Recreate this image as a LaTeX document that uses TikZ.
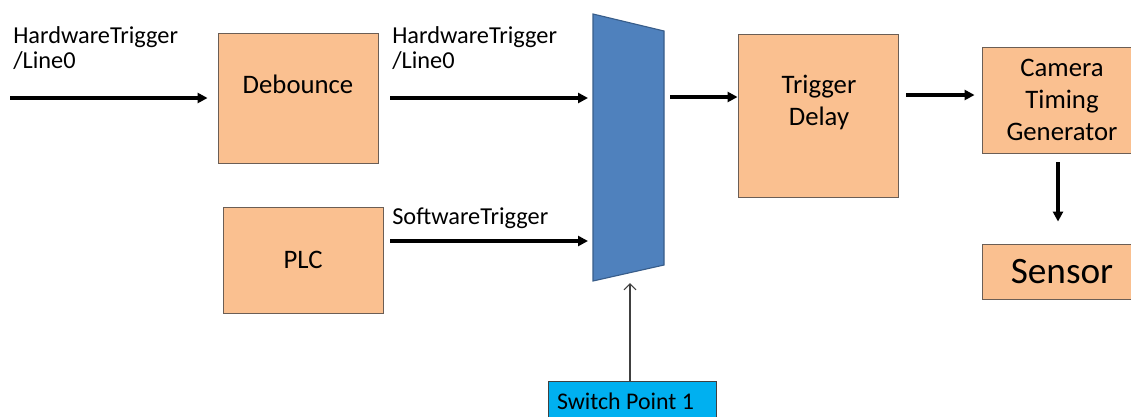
\documentclass[tikz,border=0pt]{standalone}
\usepackage{fontspec}
\setmainfont{Carlito}
\usetikzlibrary{arrows.meta}
\definecolor{boxorange}{HTML}{FAC090}
\definecolor{boxedge}{HTML}{6B5E55}
\definecolor{muxblue}{HTML}{4F81BD}
\definecolor{muxedge}{HTML}{385D8A}
\definecolor{spcyan}{HTML}{00B0F0}
\definecolor{selgray}{HTML}{404040}
\begin{document}
\begin{tikzpicture}[x=0.025cm,y=-0.025cm,line join=miter]
  \tikzset{
    blk/.style={draw=boxedge,fill=boxorange,line width=0.6pt,inner sep=0pt,
      font=\fontsize{19}{22.7}\selectfont,align=center},
    blktxt/.style={inner sep=0pt,align=center,font=\fontsize{19}{22.7}\selectfont},
    sig/.style={-{Triangle[length=0.25cm,width=0.25cm]},line width=2.2pt},
    selsig/.style={-{Straight Barb[length=0.15cm,width=0.3cm]},line width=0.8pt,draw=selgray},
    lbl/.style={anchor=north west,inner sep=0pt,align=left,font=\fontsize{17.3}{17.7}\selectfont},
  }
  \useasboundingbox (0,0) rectangle (1131,416);

  % ==================== blocks ====================
  \node[blk,minimum width=4cm,minimum height=3.25cm] (deb) at (298,98) {};
  \node[blktxt] (debtxt) at (298,84) {Debounce};
  \node[blk,minimum width=4cm,minimum height=2.65cm] (plc) at (303,260) {PLC};
  \node[blk,minimum width=4cm,minimum height=4.075cm] (td) at (818,115.5) {};
  \node[blktxt] (tdtxt) at (819,102) {Trigger\\Delay};
  \node[blk,minimum width=4cm,minimum height=2.65cm] (cam) at (1062,100) {Camera\\Timing\\Generator};
  \node[blk,minimum width=4cm,minimum height=1.375cm,font=\fontsize{26.5}{30}\selectfont] (sen) at (1062,271.5) {Sensor};
  \node[blk,draw=selgray,fill=spcyan,minimum width=4.2cm,minimum height=1cm] (sp) at (632,401) {};
  \node[blktxt,font=\fontsize{17}{20}\selectfont] (sptxt) at (625.5,401) {Switch Point 1};

  % ==================== switch ====================
  \coordinate (muxTL) at (593,14);
  \coordinate (muxTR) at (664,31);
  \coordinate (muxBR) at (664,265);
  \coordinate (muxBL) at (593,281);
  \draw[draw=muxedge,fill=muxblue,line width=0.8pt] (muxTL) -- (muxTR) -- (muxBR) -- (muxBL) -- cycle;
  \coordinate (muxin1) at (593,98);
  \coordinate (muxin2) at (593,241);
  \coordinate (muxout) at (664,97);
  \coordinate (muxsel) at (630,273);

  % ==================== signals ====================
  \coordinate (hwin) at (10,98);
  \coordinate (swin) at (390,241);
  \coordinate (tdout) at (898,95);
  \draw[sig,shorten >=0.25cm] (hwin) -- (deb.west);
  \draw[sig,shorten <=0.3cm,shorten >=0.125cm] (deb.east) -- (muxin1);
  \draw[sig,shorten >=0.125cm] (swin) -- (muxin2);
  \draw[sig,shorten <=0.15cm] (muxout) -- (muxout -| td.west);
  \draw[sig,shorten <=0.2cm,shorten >=0.175cm] (tdout) -- (tdout -| cam.west);
  \draw[sig,shorten <=0.225cm,shorten >=0.55cm] ([xshift=-0.1cm]cam.south) -- ([xshift=-0.1cm]sen.north);
  \draw[selsig,shorten >=0.25cm] (sp.north -| muxsel) -- (muxsel);

  % labels
  \node[lbl] (hwlbl1) at (13,26) {HardwareTrigger\\/Line0};
  \node[lbl] (hwlbl2) at (392,26) {HardwareTrigger\\/Line0};
  \node[lbl] (swlbl) at (392,207) {SoftwareTrigger};
\end{tikzpicture}
\end{document}
